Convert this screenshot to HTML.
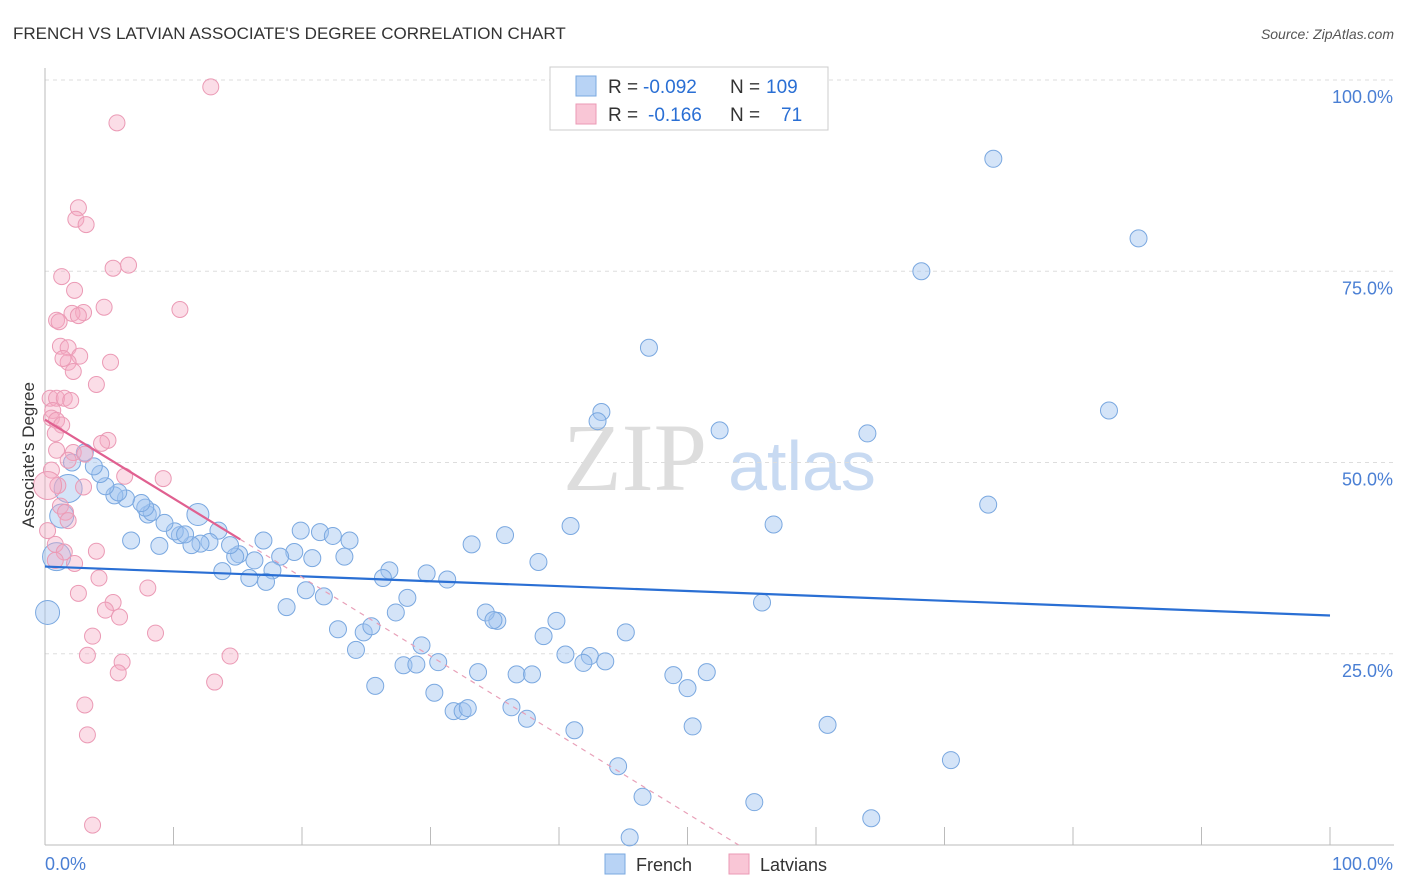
<!DOCTYPE html>
<html><head><meta charset="utf-8"><style>
body{margin:0;background:#fff;font-family:"Liberation Sans",sans-serif;}
#wrap{position:relative;width:1406px;height:892px;overflow:hidden;}
</style></head><body>
<div id="wrap">
<svg id="svg" width="1406" height="892" xmlns="http://www.w3.org/2000/svg">
<text x="13" y="39" font-size="17" fill="#333">FRENCH VS LATVIAN ASSOCIATE'S DEGREE CORRELATION CHART</text>
<text x="1394" y="39" font-size="14" fill="#555" font-style="italic" text-anchor="end">Source: ZipAtlas.com</text>
<text x="635" y="490" font-size="96" fill="#ddd" font-family="Liberation Serif,serif" text-anchor="middle">ZIP</text>
<text x="802" y="490" font-size="70" fill="#c8daf2" text-anchor="middle">atlas</text>
<g id="grid"></g><g id="pts"></g><g id="lines"></g>
<text transform="translate(34,455) rotate(-90)" font-size="17" fill="#333" text-anchor="middle">Associate's Degree</text>
<g>
<rect x="550" y="67" width="278" height="63" fill="#fff" stroke="#ccc"/>
<rect x="576" y="76" width="20" height="20" fill="#b8d3f5" stroke="#7aa8e0"/>
<rect x="576" y="104" width="20" height="20" fill="#f9c6d6" stroke="#eb9ab5"/>
<text x="608" y="93" font-size="19" fill="#333">R =</text>
<text x="643" y="93" font-size="19" fill="#2a6fd4">-0.092</text>
<text x="730" y="93" font-size="19" fill="#333">N =</text>
<text x="766" y="93" font-size="19" fill="#2a6fd4">109</text>
<text x="608" y="121" font-size="19" fill="#333">R =</text>
<text x="648" y="121" font-size="19" fill="#2a6fd4">-0.166</text>
<text x="730" y="121" font-size="19" fill="#333">N =</text>
<text x="781" y="121" font-size="19" fill="#2a6fd4">71</text>
</g>
<g>
<rect x="605" y="854" width="20" height="20" fill="#b8d3f5" stroke="#7aa8e0"/>
<text x="636" y="871" font-size="18" fill="#333">French</text>
<rect x="729" y="854" width="20" height="20" fill="#f9c6d6" stroke="#eb9ab5"/>
<text x="760" y="871" font-size="18" fill="#333">Latvians</text>
</g>
</svg></div>
<script>
const yTicks=[25,50,75,100];
const yTickLabels=["25.0%","50.0%","75.0%","100.0%"];
const xTicks=[0,10,20,30,40,50,60,70,80,90,100];
const frenchX=[73.8,85.1,68.2,47.0,82.8,43.3,43.0,52.5,64.0,73.4,40.9,56.7,35.8,33.2,38.4,55.8,45.2,39.8,38.8,35.2,34.3,34.9,40.5,42.4,41.9,43.6,48.9,51.5,50.0,33.7,36.7,37.9,30.3,36.3,31.8,32.5,32.9,37.5,41.2,50.4,60.9,70.5,44.6,46.5,55.2,64.3,45.5,25.7,27.9,28.9,30.6,29.3,24.2,22.8,24.8,25.4,27.3,28.2,26.8,26.3,29.7,31.3,18.8,20.3,21.7,17.0,19.9,21.4,22.4,23.7,23.3,20.8,19.4,18.3,17.7,17.2,15.9,13.8,15.1,16.3,14.8,13.5,14.4,12.8,12.1,11.4,10.5,10.1,10.9,9.3,8.9,6.7,8.0,8.3,7.8,7.5,6.3,5.4,5.7,4.7,4.3,3.8,3.1,2.1,1.8,1.3,0.9,0.2,11.9];
const frenchY=[89.7,79.3,75.0,65.0,56.8,56.6,55.4,54.2,53.8,44.5,41.7,41.9,40.5,39.3,37.0,31.7,27.8,29.3,27.3,29.3,30.4,29.4,24.9,24.7,23.8,24.0,22.2,22.6,20.5,22.6,22.3,22.3,19.9,18.0,17.5,17.5,17.9,16.5,15.0,15.5,15.7,11.1,10.3,6.3,5.6,3.5,1.0,20.8,23.5,23.6,23.9,26.1,25.5,28.2,27.8,28.6,30.4,32.3,35.9,34.9,35.5,34.7,31.1,33.3,32.5,39.8,41.1,40.9,40.4,39.8,37.7,37.5,38.3,37.7,35.9,34.4,34.9,35.8,38.0,37.2,37.7,41.1,39.2,39.6,39.4,39.2,40.5,41.0,40.6,42.1,39.1,39.8,43.2,43.5,44.1,44.7,45.3,45.7,46.1,46.9,48.5,49.5,51.3,50.0,46.6,43.0,37.7,30.4,43.2];
const latvianX=[12.9,5.6,2.6,2.4,3.2,6.5,5.3,1.3,2.3,3.0,4.6,10.5,0.9,1.1,2.1,2.6,1.2,1.8,2.7,5.1,1.8,2.2,4.0,0.4,0.9,1.5,2.0,0.6,0.5,0.9,1.3,0.8,4.9,4.4,0.9,2.2,3.1,1.8,9.2,6.2,0.5,1.0,3.0,1.2,1.6,1.8,0.8,4.0,1.5,2.3,4.2,2.6,5.3,4.7,5.8,8.6,8.0,3.7,3.3,6.0,5.7,14.4,13.2,3.1,3.3,3.7,0.2,0.8,0.2,1.4];
const latvianY=[99.1,94.4,83.3,81.8,81.1,75.8,75.4,74.3,72.5,69.6,70.3,70.0,68.6,68.4,69.5,69.2,65.2,65.0,63.9,63.1,63.1,61.9,60.2,58.4,58.4,58.4,58.1,56.8,55.8,55.5,54.9,53.8,52.9,52.5,51.6,51.3,51.1,50.3,47.9,48.2,49.0,47.0,46.8,44.3,43.5,42.4,39.3,38.4,38.3,36.8,34.9,32.9,31.7,30.7,29.8,27.7,33.6,27.3,24.8,23.9,22.5,24.7,21.3,18.3,14.4,2.6,47.0,37.2,41.1,63.6];
const frenchTrend=[36.4,30.0];
const latvianTrend=[55.6,-1.03,15.2];

const X0=45,X1=1330,Y0=845,Y100=80;
const sx=v=>X0+(X1-X0)*v/100, sy=v=>Y0-(Y0-Y100)*v/100;
const NS="http://www.w3.org/2000/svg";
function mk(t,a,p){const e=document.createElementNS(NS,t);for(const k in a)e.setAttribute(k,a[k]);p.appendChild(e);return e;}
const g=document.getElementById('grid');
yTicks.forEach((t,i)=>{
 const l=mk('line',{x1:X0,x2:1394,y1:sy(t),y2:sy(t),stroke:'#ddd','stroke-dasharray':'4,4'},g);
 
 
 const tx=mk('text',{x:1393,y:sy(t)+23,'font-size':18,fill:'#4a7fd4','text-anchor':'end'},g);tx.textContent=yTickLabels[i];
 
 
});
const ax=mk('line',{x1:X0,x2:X0,y1:68,y2:Y0,stroke:'#bbb'},g);


const bx=mk('line',{x1:X0,x2:1394,y1:Y0,y2:Y0,stroke:'#bbb'},g);


xTicks.forEach(t=>{const l=mk('line',{x1:sx(t),x2:sx(t),y1:Y0,y2:Y0-18,stroke:'#bbb'},g);
 
 });
[[0,'0.0%','start',45],[100,'100.0%','end',1393]].forEach(a=>{const t=mk('text',{x:a[3],y:870,'font-size':18,fill:'#4a7fd4','text-anchor':a[2]},g);t.textContent=a[1];
 
 });
const p=document.getElementById('pts');
const bigF={104:14,105:12,106:14,107:12,108:11};
frenchX.forEach((x,i)=>{const c=mk('circle',{cx:sx(x),cy:sy(frenchY[i]),r:bigF[i]||8.5,fill:'rgba(160,196,240,0.45)',stroke:'#7aa8e0','stroke-width':1},p);
 
 });
const bigL={66:14};
latvianX.forEach((x,i)=>{const c=mk('circle',{cx:sx(x),cy:sy(latvianY[i]),r:bigL[i]||8,fill:'rgba(245,170,195,0.4)',stroke:'#eb9ab5','stroke-width':1},p);
 
 });
const L=document.getElementById('lines');
const fl=mk('line',{x1:sx(0),y1:sy(frenchTrend[0]),x2:sx(100),y2:sy(frenchTrend[1]),stroke:'#2a6fd4','stroke-width':2.2},L);


const xe=latvianTrend[2], xz=-latvianTrend[0]/latvianTrend[1];
const ll=mk('line',{x1:sx(0),y1:sy(latvianTrend[0]),x2:sx(xe),y2:sy(latvianTrend[0]+latvianTrend[1]*xe),stroke:'#e06090','stroke-width':2.2},L);


const ld=mk('line',{x1:sx(xe),y1:sy(latvianTrend[0]+latvianTrend[1]*xe),x2:sx(xz),y2:sy(0),stroke:'#e8a0b8','stroke-width':1.2,'stroke-dasharray':'5,5'},L);


</script>
</body></html>
